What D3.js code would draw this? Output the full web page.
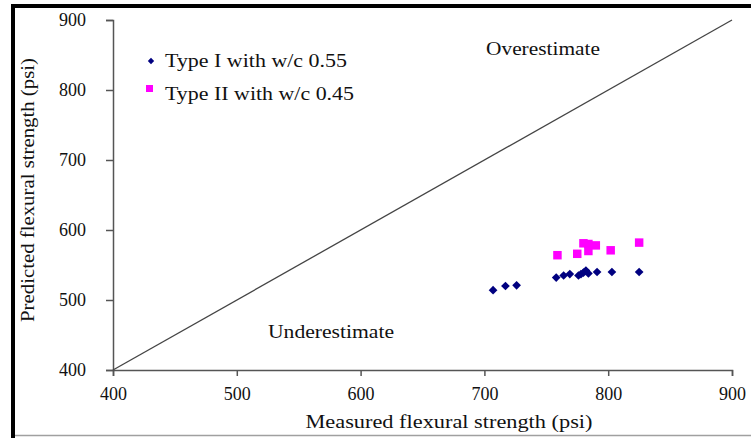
<!DOCTYPE html>
<html>
<head>
<meta charset="utf-8">
<script src="https://cdn.jsdelivr.net/npm/d3@7.9.0/dist/d3.min.js"></script>
<style>
  body { margin: 0; background: #fff; }
  text { font-family: "Liberation Serif", "Times New Roman", serif; fill: #111; }
</style>
</head>
<body>
<div id="chart"></div>
<script>
// data (psi)
const typeI_measured  = [707, 717, 726, 758, 764, 769, 776, 778, 780, 782, 784, 791, 803, 825];
const typeI_predicted = [514, 520, 521, 532, 535, 537, 535, 537, 539, 542, 538, 540, 540, 540];
const typeII_measured  = [759, 775, 780, 784, 784, 790, 802, 825];
const typeII_predicted = [564, 566, 581, 580, 570, 578, 571, 582];
const tickValues = [400, 500, 600, 700, 800, 900];
const legendLabels = ["Type I with w/c 0.55", "Type II with w/c 0.45"];

const W = 751, H = 438;
const svg = d3.select("#chart").append("svg").attr("width", W).attr("height", H);

// outer frame (black left/top, grey bottom)
svg.append("rect").attr("x", 11).attr("y", 4).attr("width", 4).attr("height", H - 4).attr("fill", "#000");
svg.append("rect").attr("x", 11).attr("y", 4).attr("width", W - 11).attr("height", 4).attr("fill", "#000");
svg.append("line").attr("x1", 15).attr("x2", W).attr("y1", 435.5).attr("y2", 435.5)
  .attr("stroke", "#a0a0a0").attr("stroke-width", 1.5);

const x = d3.scaleLinear().domain([400, 900]).range([113, 732]);
const y = d3.scaleLinear().domain([400, 900]).range([370, 20]);

const axisColor = "#555";

// y axis
const yAxis = svg.append("g").attr("transform", `translate(${x(400)},0)`)
  .call(d3.axisLeft(y).tickValues(tickValues).tickSize(7).tickPadding(20));
// x axis
const xAxis = svg.append("g").attr("transform", `translate(0,${y(400)})`)
  .call(d3.axisBottom(x).tickValues(tickValues).tickSize(6).tickPadding(11));

[xAxis, yAxis].forEach(a => {
  a.select(".domain").attr("stroke", axisColor).attr("stroke-width", 1.5);
  a.selectAll(".tick line").attr("stroke", axisColor).attr("stroke-width", 1.5);
  a.selectAll(".tick text").attr("font-size", 18).attr("fill", "#111")
    .style("font-family", "'Liberation Serif', serif");
});

// 1:1 line
svg.append("line")
  .attr("x1", x(400)).attr("y1", y(400))
  .attr("x2", x(900)).attr("y2", y(900))
  .attr("stroke", "#444").attr("stroke-width", 1.3);

// points
const ptsI = typeI_measured.map((m, i) => [m, typeI_predicted[i]]);
const ptsII = typeII_measured.map((m, i) => [m, typeII_predicted[i]]);

svg.append("g").selectAll("path").data(ptsII).join("path")
  .attr("d", d3.symbol(d3.symbolSquare, 72))
  .attr("transform", d => `translate(${x(d[0])},${y(d[1])})`)
  .attr("fill", "#ff00ff");

svg.append("g").selectAll("path").data(ptsI).join("path")
  .attr("d", d3.symbol(d3.symbolSquare, 38))
  .attr("transform", d => `translate(${x(d[0])},${y(d[1])}) rotate(45)`)
  .attr("fill", "#000080");

// text helper: stretch to the width seen in the picture
function label(px, py, str, len, anchor) {
  return svg.append("text").attr("x", px).attr("y", py).attr("font-size", 19)
    .attr("text-anchor", anchor || "start")
    .attr("textLength", len).attr("lengthAdjust", "spacingAndGlyphs")
    .text(str);
}

// legend
svg.append("path").attr("d", d3.symbol(d3.symbolSquare, 20))
  .attr("transform", "translate(151,61) rotate(45)").attr("fill", "#000080");
svg.append("rect").attr("x", 146).attr("y", 85).attr("width", 7).attr("height", 7).attr("fill", "#ff00ff");
label(165, 67, legendLabels[0], 182);
label(165, 100, legendLabels[1], 189);

// region labels
label(543, 55, "Overestimate", 114, "middle");
label(331, 338, "Underestimate", 126, "middle");

// axis titles
label(449, 428, "Measured flexural strength (psi)", 287, "middle");
svg.append("text").attr("transform", "translate(34,190) rotate(-90)").attr("text-anchor", "middle")
  .attr("font-size", 19).attr("textLength", 264).attr("lengthAdjust", "spacingAndGlyphs")
  .text("Predicted flexural strength (psi)");
</script>
</body>
</html>
